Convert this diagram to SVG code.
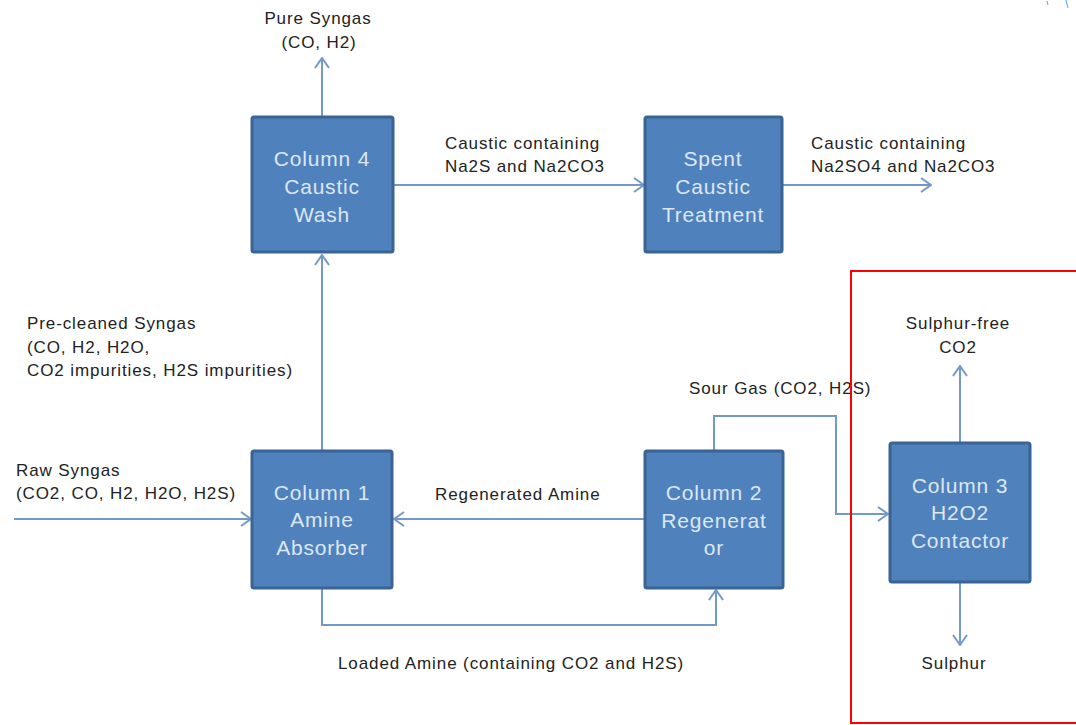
<svg xmlns="http://www.w3.org/2000/svg" width="1076" height="725" viewBox="0 0 1076 725">
<defs>
<marker id="arr" viewBox="0 0 12 16" refX="11" refY="8" markerWidth="12" markerHeight="16" markerUnits="userSpaceOnUse" orient="auto">
<path d="M1,1 L11,8 L1,15" fill="none" stroke="#7399c9" stroke-width="2"/>
</marker>
<style>
.box{fill:#4f81bd;stroke:#3a6494;stroke-width:3}
.bt{font-family:"Liberation Sans",Arial,sans-serif;font-size:21px;fill:#dde7f3;text-anchor:middle;letter-spacing:0.8px}
.lb{font-family:"Liberation Sans",Arial,sans-serif;font-size:17px;fill:#222;letter-spacing:0.9px}
.c{text-anchor:middle}
.ln{fill:none;stroke:#7399c9;stroke-width:2}
</style>
</defs>
<rect width="1076" height="725" fill="#fff"/>

<g id="connectors">
<path class="ln" d="M322,116 V58" marker-end="url(#arr)"/>
<path class="ln" d="M394,185 H644" marker-end="url(#arr)"/>
<path class="ln" d="M782,185 H931" marker-end="url(#arr)"/>
<path class="ln" d="M322,450 V255" marker-end="url(#arr)"/>
<path class="ln" d="M14,519 H251" marker-end="url(#arr)"/>
<path class="ln" d="M645,519 H394" marker-end="url(#arr)"/>
<path class="ln" d="M322,588 V625 H716 V590" marker-end="url(#arr)"/>
<path class="ln" d="M714,450 V416 H836 V514 H888" marker-end="url(#arr)"/>
<path class="ln" d="M960,442 V366" marker-end="url(#arr)"/>
<path class="ln" d="M960,583 V645" marker-end="url(#arr)"/>
</g>

<g id="col4">
<rect class="box" x="252" y="117" width="141" height="135" rx="2"/>
<text class="bt" x="322" y="166">Column 4</text>
<text class="bt" x="322" y="194">Caustic</text>
<text class="bt" x="322" y="222">Wash</text>
</g>
<g id="spent">
<rect class="box" x="645" y="117" width="137" height="135" rx="2"/>
<text class="bt" x="713" y="166">Spent</text>
<text class="bt" x="713" y="194">Caustic</text>
<text class="bt" x="713" y="222">Treatment</text>
</g>
<g id="col1">
<rect class="box" x="252" y="451" width="140" height="137" rx="2"/>
<text class="bt" x="322" y="500">Column 1</text>
<text class="bt" x="322" y="527">Amine</text>
<text class="bt" x="322" y="555">Absorber</text>
</g>
<g id="col2">
<rect class="box" x="645" y="451" width="138" height="137" rx="2"/>
<text class="bt" x="714" y="500">Column 2</text>
<text class="bt" x="714" y="528">Regenerat</text>
<text class="bt" x="714" y="555">or</text>
</g>
<g id="col3">
<rect class="box" x="890" y="443" width="140" height="139" rx="2"/>
<text class="bt" x="960" y="493">Column 3</text>
<text class="bt" x="960" y="520">H2O2</text>
<text class="bt" x="960" y="548">Contactor</text>
</g>

<g id="labels">
<text class="lb c" x="318" y="24">Pure Syngas</text>
<text class="lb c" x="319" y="48">(CO, H2)</text>
<text class="lb" x="445" y="149">Caustic containing</text>
<text class="lb" x="445" y="172">Na2S and Na2CO3</text>
<text class="lb" x="811" y="149">Caustic containing</text>
<text class="lb" x="811" y="172">Na2SO4 and Na2CO3</text>
<text class="lb" x="27" y="329">Pre-cleaned Syngas</text>
<text class="lb" x="27" y="353">(CO, H2, H2O,</text>
<text class="lb" x="27" y="376">CO2 impurities, H2S impurities)</text>
<text class="lb" x="16" y="476">Raw Syngas</text>
<text class="lb" x="16" y="499">(CO2, CO, H2, H2O, H2S)</text>
<text class="lb" x="435" y="500">Regenerated Amine</text>
<text class="lb" x="689" y="394">Sour Gas (CO2, H2S)</text>
<text class="lb" x="338" y="669">Loaded Amine (containing CO2 and H2S)</text>
<text class="lb c" x="958" y="329">Sulphur-free</text>
<text class="lb c" x="958" y="353">CO2</text>
<text class="lb c" x="954" y="669">Sulphur</text>
</g>

<rect id="highlight" x="851" y="271" width="240" height="452" fill="none" stroke="#ff0000" stroke-width="2"/>
<path d="M1047,1 L1048,5 M1066,0 L1068,8" fill="none" stroke="#4aa8e6" stroke-width="1"/>
</svg>
